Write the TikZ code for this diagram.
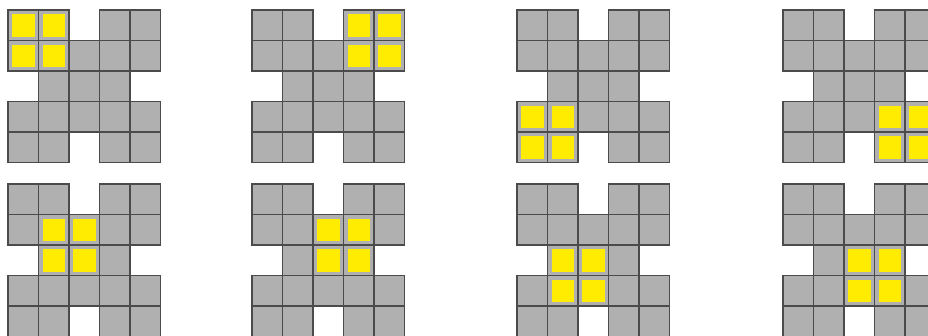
\documentclass[tikz,border=0pt]{standalone}
\usepackage{xcolor}
\usepackage{tikz}
\definecolor{cellgray}{RGB}{176,176,176}
\definecolor{edgegray}{RGB}{75,75,75}
\definecolor{hotyellow}{RGB}{255,236,0}

% one X-shaped board, #1,#2 = top left corner, #3,#4 = column and row of the 2x2 block
\newcommand{\xboard}[4]{
    \begin{scope}[shift={(#1,#2)}]
        \foreach \c/\r in {0/0,1/0,3/0,4/0,
                           0/1,1/1,2/1,3/1,4/1,
                           1/2,2/2,3/2,
                           0/3,1/3,2/3,3/3,4/3,
                           0/4,1/4,3/4,4/4}
            \draw[cell] (\c*30.5,\r*30.5) rectangle ++(30.5,30.5);
        \foreach \dc in {0,1}
            \foreach \dr in {0,1}
                \fill[hot] ({(#3+\dc)*30.5+4},{(#4+\dr)*30.5+4}) rectangle ++(22.5,22.5);
    \end{scope}
}

\begin{document}
\begin{tikzpicture}[x=0.02cm, y=-0.02cm,
    cell/.style={fill=cellgray, draw=edgegray, line width=1.1pt},
    hot/.style={fill=hotyellow}]

    \useasboundingbox (0,0) rectangle (928,335);
    \clip (0,0) rectangle (928,335);

    % top row
    \xboard{8}{10}{0}{0}
    \xboard{252}{10}{3}{0}
    \xboard{517}{10}{0}{3}
    \xboard{783}{10}{3}{3}

    % bottom row
    \xboard{8}{184}{1}{1}
    \xboard{252}{184}{2}{1}
    \xboard{517}{184}{1}{2}
    \xboard{783}{184}{2}{2}

\end{tikzpicture}
\end{document}
